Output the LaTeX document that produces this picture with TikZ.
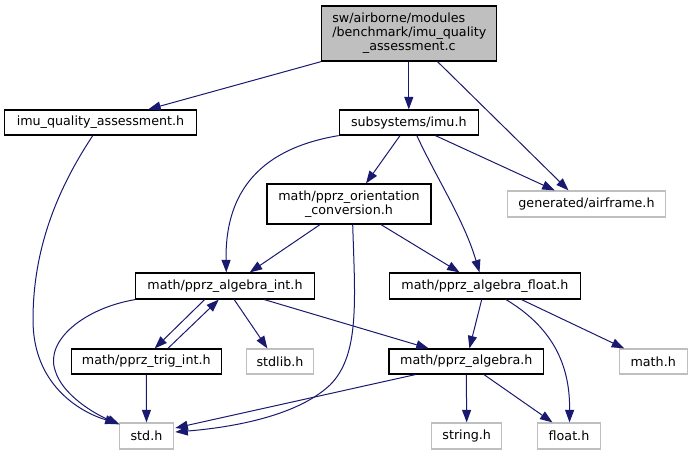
\documentclass[tikz,border=0pt]{standalone}
\usepackage{fontspec}
\setmainfont{DejaVu Sans}
\usetikzlibrary{arrows.meta,calc}
\definecolor{edgec}{HTML}{191970}
\definecolor{greyb}{HTML}{BFBFBF}
\tikzset{
  box/.style={draw=black, line width=1.2pt, rectangle, inner sep=0pt, align=center,
    font=\fontsize{12.7}{14}\selectfont},
  extbox/.style={box, draw=greyb},
  topbox/.style={box, fill=greyb},
  edge/.style={draw=edgec, line width=1pt, -{Triangle[length=12.5pt,width=9pt]}},
}
\begin{document}
\begin{tikzpicture}[x=1pt,y=-1pt]
\useasboundingbox (0,0) rectangle (693,455);
\node[topbox, minimum width=175pt, minimum height=55pt] (top) at (409.3,33.5)
  {\begin{tabular}{@{}l@{}}sw/airborne/modules\\/benchmark/imu\_quality\\\multicolumn{1}{@{}c@{}}{\_assessment.c}\end{tabular}};
\node[box, minimum width=192pt, minimum height=25pt] (iqa) at (100.5,122.5) {imu\_quality\_assessment.h};
\node[box, minimum width=139pt, minimum height=25pt] (imu) at (408.8,122.5) {subsystems/imu.h};
\node[extbox, minimum width=158pt, minimum height=26pt] (airframe) at (586.5,204) {generated/airframe.h};
\node[box, minimum width=164pt, minimum height=40pt] (orient) at (349,204) {math/pprz\_orientation\\\_conversion.h};
\node[box, minimum width=178.5pt, minimum height=26pt] (aint) at (225,286) {math/pprz\_algebra\_int.h};
\node[box, minimum width=191pt, minimum height=26pt] (afloat) at (484.9,286) {math/pprz\_algebra\_float.h};
\node[box, minimum width=150pt, minimum height=25pt] (trig) at (146.3,361.5) {math/pprz\_trig\_int.h};
\node[extbox, minimum width=67.6pt, minimum height=25pt] (stdlib) at (280,361.5) {stdlib.h};
\node[box, minimum width=154.7pt, minimum height=25pt] (alg) at (466.3,361.5) {math/pprz\_algebra.h};
\node[extbox, minimum width=68pt, minimum height=25pt] (math) at (653.2,361.5) {math.h};
\node[extbox, minimum width=54.4pt, minimum height=26pt] (std) at (146.5,436) {std.h};
\node[extbox, minimum width=69.8pt, minimum height=26pt] (string) at (466.7,436) {string.h};
\node[extbox, minimum width=62.3pt, minimum height=26pt] (float) at (569,436) {float.h};

% edges
\draw[edge] (top.south west) -- ($(iqa.north)+(47.7,0)$);
\draw[edge] (imu.north |- top.south) -- (imu.north);
\draw[edge] ($(top.south)+(28.2,0)$) -- ($(airframe.north)+(-18,0)$);
\draw[edge] ($(iqa.south)+(-7.7,0)$) .. controls (50,200) and (33,260) .. (33,320) .. controls (33,385) and (80,412) .. ($(std.north west)+(-1,1)$);
\draw[edge] (imu.south west) .. controls (252,150) and (225,200) .. ($(aint.north)+(1.3,0)$);
\draw[edge] ($(imu.south)+(-8.8,0)$) -- ($(orient.north)+(17,0)$);
\draw[edge] ($(imu.south)+(8,0)$) .. controls (437.5,180) and (464,220) .. ($(afloat.north)+(-5.4,0)$);
\draw[edge] ($(imu.south)+(26.6,0)$) -- ($(airframe.north)+(-31.8,0)$);
\draw[edge] ($(orient.south)+(-29,0)$) -- ($(aint.north)+(24.7,0)$);
\draw[edge] ($(orient.south)+(32,0)$) -- ($(afloat.north)+(-25.3,0)$);
\draw[edge] ($(orient.south)+(3.7,0)$) .. controls (355,300) and (360,355) .. (330,385) .. controls (295,418) and (225,428) .. ($(std.east)+(1,-4)$);
\draw[edge] (aint.south west) .. controls (85,308) and (45,340) .. (55,370) .. controls (62,395) and (95,414) .. ($(std.north west)+(1,2)$);
\draw[edge] ($(aint.south)+(-20.4,0)$) -- ($(trig.north)+(8.4,0)$);
\draw[edge] ($(trig.north)+(21.6,0)$) -- ($(aint.south)+(-6.2,0)$);
\draw[edge] ($(aint.south)+(9.2,0)$) -- ($(stdlib.north)+(-12.6,0)$);
\draw[edge] ($(aint.south)+(39.3,0)$) -- ($(alg.north)+(-37.6,0)$);
\draw[edge] ($(afloat.south)+(-3.2,0)$) -- ($(alg.north)+(3.1,0)$);
\draw[edge] ($(afloat.south)+(21.1,0)$) .. controls (556.8,330) and (570,370) .. ($(float.north)+(0.5,0)$);
\draw[edge] ($(afloat.south)+(36.6,0)$) -- ($(math.north)+(-29,0)$);
\draw[edge] (trig.south) -- (std.north);
\draw[edge] ($(alg.south)+(-50.9,0)$) -- ($(std.east)+(1,-8)$);
\draw[edge] (alg.south) -- (string.north);
\draw[edge] ($(alg.south)+(17.7,0)$) -- ($(float.north)+(-16.5,0)$);
\end{tikzpicture}
\end{document}
